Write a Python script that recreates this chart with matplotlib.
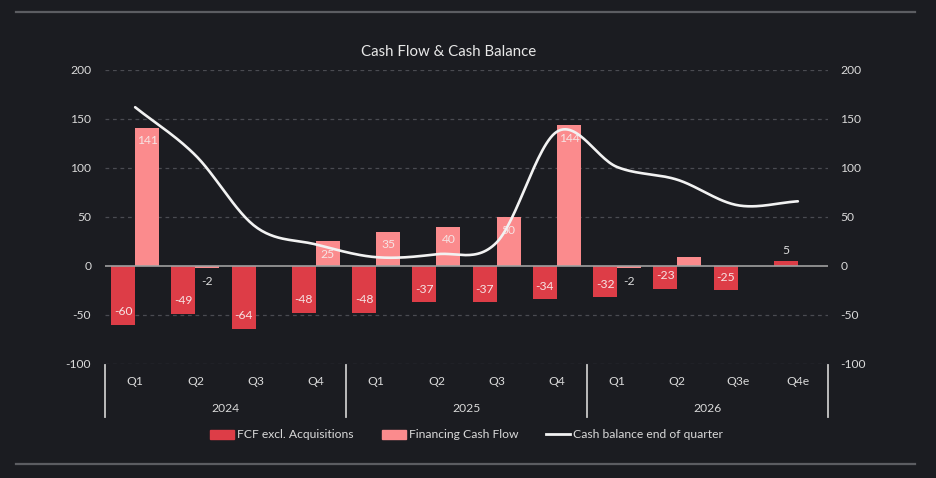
import matplotlib.pyplot as plt
import matplotlib.transforms as mtransforms
from matplotlib.patches import Patch
from matplotlib.lines import Line2D
import numpy as np

plt.rcParams["font.family"] = ["Lato", "DejaVu Sans"]
plt.rcParams["axes.unicode_minus"] = False

quarters = ["Q1", "Q2", "Q3", "Q4", "Q1", "Q2", "Q3", "Q4", "Q1", "Q2", "Q3e", "Q4e"]
years = ["2024", "2025", "2026"]
fcf = [-60, -49, -64, -48, -48, -37, -37, -34, -32, -23, -25, 5]
financing = [141, -2, 0, 25, 35, 40, 50, 144, -2, 9, 0, 0]
fin_labels = ["141", "-2", "", "25", "35", "40", "50", "144", "-2", "", "", ""]
cash_balance = [162, 113, 40, 22, 9, 12, 24, 137, 101, 88, 62, 66]

bg = "#1b1c21"
dark_red = "#dd3d47"
pink = "#fb8b8d"
txt = "#d9d9d9"
grid_c = "#4a4b51"


def smooth(xs, ys, n=30):
    # catmull-rom style smoothing like the spreadsheet "smoothed line"
    xs = np.asarray(xs, float)
    ys = np.asarray(ys, float)
    px = np.concatenate([[2 * xs[0] - xs[1]], xs, [2 * xs[-1] - xs[-2]]])
    py = np.concatenate([[2 * ys[0] - ys[1]], ys, [2 * ys[-1] - ys[-2]]])
    outx, outy = [], []
    t = np.linspace(0, 1, n)
    for i in range(1, len(px) - 2):
        for p, o in ((px, outx), (py, outy)):
            p0, p1, p2, p3 = p[i - 1], p[i], p[i + 1], p[i + 2]
            m1 = (p2 - p0) / 2
            m2 = (p3 - p1) / 2
            h00 = 2 * t**3 - 3 * t**2 + 1
            h10 = t**3 - 2 * t**2 + t
            h01 = -2 * t**3 + 3 * t**2
            h11 = t**3 - t**2
            o.extend(h00 * p1 + h10 * m1 + h01 * p2 + h11 * m2)
    return np.array(outx), np.array(outy)


fig = plt.figure(figsize=(9.36, 4.78), dpi=100, facecolor=bg)
ax = fig.add_axes([0.1122, 0.2385, 0.7724, 0.6151])
ax.set_facecolor(bg)

x = np.arange(len(quarters))
w = 0.4
ax.set_ylim(-100, 200)
ax.set_xlim(-0.5, len(quarters) - 0.5)
ax.set_yticks(np.arange(-100, 201, 50))
for yv in np.arange(-100, 201, 50):
    if yv != 0:
        ax.axhline(yv, color=grid_c, lw=0.9, ls=(0, (3, 3)), zorder=0)
ax.axhline(0, color="#a0a0a0", lw=1.2, zorder=3)

b1 = ax.bar(x - w / 2, fcf, w, color=dark_red, zorder=2)
b2 = ax.bar(x + w / 2, financing, w, color=pink, zorder=2)


def label(xc, v, s, inside):
    if not s:
        return
    sign = 1 if v >= 0 else -1
    if inside:
        off, col = -9.5 * sign, "#f6e4e4"
    else:
        off, col = 7.5 * sign, "#dcdcdc"
        if v < 0:
            off = -9.5
    ax.annotate(s, (xc, v), xytext=(0, off), textcoords="offset points",
                ha="center", va="center", color=col, fontsize=8.7, zorder=5)


for i, v in enumerate(fcf):
    label(x[i] - w / 2, v, str(v), abs(v) >= 8)
for i, v in enumerate(financing):
    label(x[i] + w / 2, v, fin_labels[i], abs(v) >= 8)

sx, sy = smooth(x, cash_balance)
ax2 = ax.twinx()
ax2.set_ylim(-100, 200)
ax2.set_yticks(np.arange(-100, 201, 50))
ax2.plot(sx, sy, color="#f2f2f2", lw=1.9, zorder=6, solid_capstyle="round")

for a in (ax, ax2):
    for sp in a.spines.values():
        sp.set_visible(False)
    a.tick_params(length=0, colors=txt, labelsize=8.7)
ax.tick_params(axis="y", pad=10)
ax2.tick_params(axis="y", pad=9)
ax.set_xticks([])

trans = mtransforms.blended_transform_factory(ax.transData, ax.transAxes)
for i, q in enumerate(quarters):
    ax.text(x[i], -0.06, q, transform=trans, ha="center", va="center",
            color=txt, fontsize=8.7)
for j, yr in enumerate(years):
    ax.text(4 * j + 1.5, -0.1497, yr, transform=trans, ha="center", va="center",
            color=txt, fontsize=8.7)
for xs in (-0.5, 3.5, 7.5, 11.5):
    ax.plot([xs, xs], [-0.002, -0.18], transform=trans, color="#c8c8c8",
            lw=1.3, clip_on=False)

fig.text(0.4797, 1 - 52 / 478, "Cash Flow & Cash Balance", ha="center",
         va="center", color="#e8e8e8", fontsize=10.8)

handles = [Patch(color=dark_red), Patch(color=pink),
           Line2D([], [], color="#f2f2f2", lw=2)]
fig.legend(handles, ["FCF excl. Acquisitions", "Financing Cash Flow",
                     "Cash balance end of quarter"],
           loc="center", bbox_to_anchor=(0.4985, 1 - 435 / 478), ncol=3,
           frameon=False, fontsize=8.7, labelcolor=txt, handlelength=2.0,
           handleheight=0.7, handletextpad=0.25, columnspacing=2.3)

for yy in (1 - 12 / 478, 1 - 464 / 478):
    fig.add_artist(Line2D([16 / 936, 915 / 936], [yy, yy], color="#5c5d62",
                          lw=1.6, transform=fig.transFigure))

fig.savefig("out.png", dpi=100, facecolor=bg)
